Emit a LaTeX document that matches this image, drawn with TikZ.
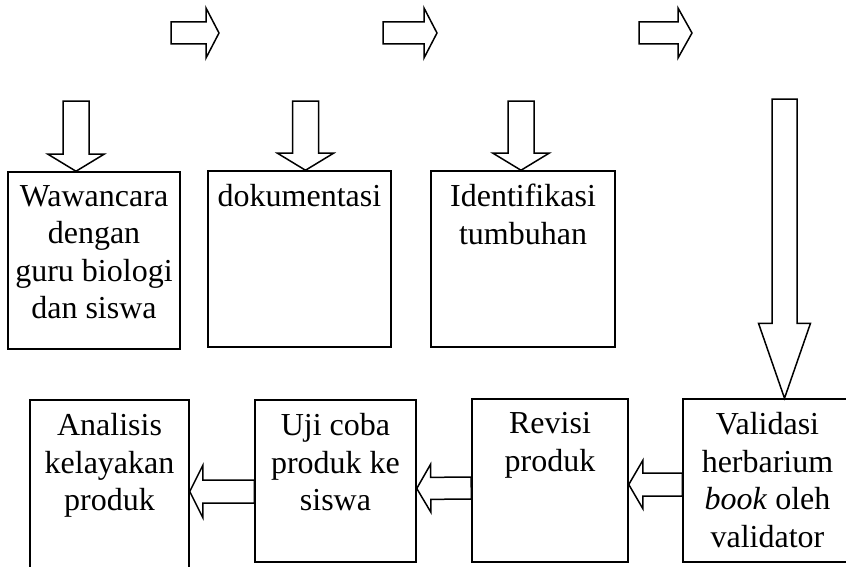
\documentclass[tikz,border=0pt]{standalone}
\usepackage{fontspec}
\setmainfont{Liberation Serif}
\usetikzlibrary{calc, positioning}

\begin{document}
\begin{tikzpicture}[x=1pt, y=-1pt,
    kotak/.style={draw=black, line width=1.5pt, inner sep=0pt},
    teks/.style={inner sep=0pt, align=center, font=\fontsize{32}{37.5}\selectfont},
    panah/.style n args={3}{draw=black, line width=1.5pt, to path={
        ($(\tikztotarget)!#3!(\tikztostart)$) coordinate (ujung)
        ($(\tikztostart)!#1!90:(\tikztotarget)$)
        -- ($(ujung)!#1!-90:(\tikztostart)$)
        -- ($(ujung)!#2!-90:(\tikztostart)$)
        -- (\tikztotarget)
        -- ($(ujung)!#2!90:(\tikztostart)$)
        -- ($(ujung)!#1!90:(\tikztostart)$)
        -- ($(\tikztostart)!#1!-90:(\tikztotarget)$)
        -- cycle}}]
\useasboundingbox (0,0) rectangle (846,567);
\clip (0,0) rectangle (846,567);

% top row
\node[kotak, minimum width=172pt, minimum height=177pt] (wawancara) at (94,260.5) {};
\node[kotak, minimum width=183pt, minimum height=176pt] (dokumentasi) at (299.5,259) {};
\node[kotak, minimum width=184pt, minimum height=176pt] (identifikasi) at (523,259) {};

\node[teks, below=14pt of wawancara.north] (wawancara-t) {Wawancara\\dengan\\guru biologi\\dan siswa};
\node[teks, below=14pt of dokumentasi.north] (dokumentasi-t) {dokumentasi};
\node[teks, below=14pt of identifikasi.north] (identifikasi-t) {Identifikasi\\tumbuhan};

% bottom row
\node[kotak, minimum width=169pt, minimum height=163pt] (validasi) at (767.5,480.5) {};
\node[kotak, minimum width=156pt, minimum height=163pt] (revisi) at (550,480.5) {};
\node[kotak, minimum width=161pt, minimum height=162pt] (ujicoba) at (335.5,481) {};
\node[kotak, minimum width=159pt, minimum height=168pt] (analisis) at (109.5,484) {};

\node[teks, below=14pt of validasi.north] (validasi-t) {Validasi\\herbarium\\\textit{book} oleh\\validator};
\node[teks, below=14pt of revisi.north] (revisi-t) {Revisi\\produk};
\node[teks, below=14pt of ujicoba.north] (ujicoba-t) {Uji coba\\produk ke\\siswa};
\node[teks, below=14pt of analisis.north] (analisis-t) {Analisis\\kelayakan\\produk};

% arrows on top
\coordinate (a1) at (171,33);
\coordinate (b1) at (219,33);
\coordinate (a2) at (383,33);
\coordinate (b2) at (437,33);
\coordinate (a3) at (639,33);
\coordinate (b3) at (692,33);
\draw[panah={11pt}{25pt}{13pt}] (a1) to (b1);
\draw[panah={11pt}{25pt}{13pt}] (a2) to (b2);
\draw[panah={11pt}{25pt}{14pt}] (a3) to (b3);

% arrows into boxes
\draw[panah={13pt}{28pt}{17pt}] ([xshift=-18pt, yshift=70pt]wawancara.north) to ([xshift=-18pt]wawancara.north);
\draw[panah={13pt}{28pt}{17pt}] ([xshift=6pt, yshift=69pt]dokumentasi.north) to ([xshift=6pt]dokumentasi.north);
\draw[panah={13pt}{28pt}{17pt}] ([xshift=-2pt, yshift=69pt]identifikasi.north) to ([xshift=-2pt]identifikasi.north);
\draw[panah={12.5pt}{26pt}{75pt}] ([xshift=17pt, yshift=299pt]validasi.north) to ([xshift=17pt]validasi.north);

% arrows between boxes
\coordinate (u-kiri) at ([yshift=-10.5pt]ujicoba.west);
\draw[panah={11.5pt}{24pt}{14pt}] ([yshift=-4pt]validasi.west) to ([yshift=-4pt]revisi.east);
\draw[panah={11pt}{24pt}{14pt}] ([yshift=-7.5pt]revisi.west) to ([yshift=-7.5pt]ujicoba.east);
\draw[panah={11.5pt}{26pt}{13pt}] (u-kiri) to (u-kiri -| analisis.east);
\end{tikzpicture}
\end{document}
